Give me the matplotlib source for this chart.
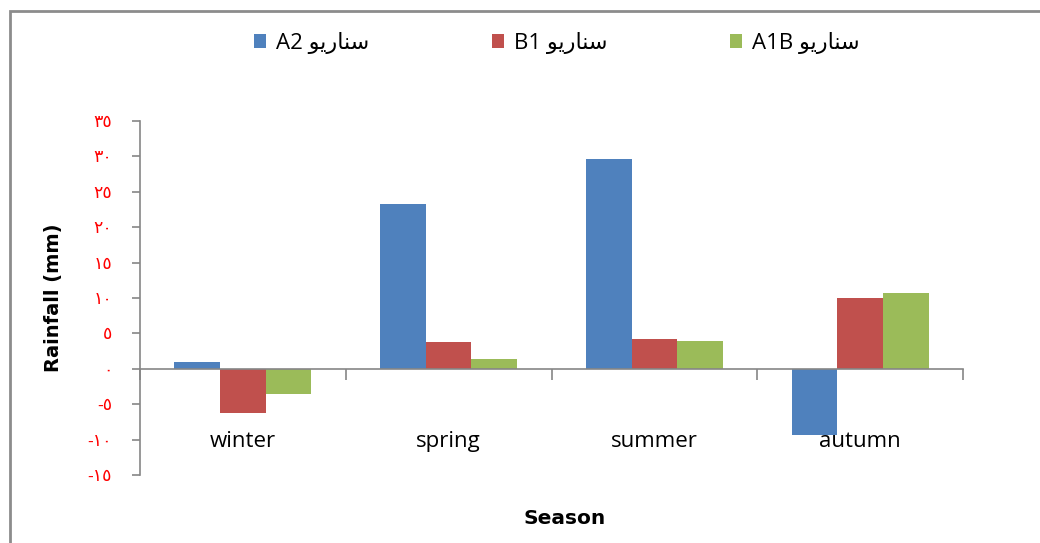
import matplotlib.pyplot as plt
import numpy as np
from matplotlib.patches import Rectangle

plt.rcParams['font.family'] = ['Open Sans', 'DejaVu Sans']

seasons = ['winter', 'spring', 'summer', 'autumn']
a2 = [0.9, 23.3, 29.6, -9.3]
b1 = [-6.3, 3.75, 4.2, 10.0]
a1b = [-3.6, 1.4, 3.9, 10.7]

# Arabic "سناريو" already shaped, in visual (left-to-right) order
scen = '\uFEEE\uFEF3\uFEAD\uFE8E\uFEE8\uFEB3'
labels = ['A2 ' + scen, 'B1 ' + scen, 'A1B ' + scen]
colors = ['#4F81BD', '#C0504D', '#9BBB59']

yticks = list(range(-15, 40, 5))
ar_digits = str.maketrans('0123456789', '\u0660\u0661\u0662\u0663\u0664\u0665\u0666\u0667\u0668\u0669')
ytick_labels = [str(v).translate(ar_digits) for v in yticks]

fig = plt.figure(figsize=(10.4, 5.43), dpi=100)
ax = fig.add_axes([140 / 1040, 68 / 543, 823 / 1040, 354 / 543])

x = np.arange(len(seasons)) + 0.5
w = 1 / 4.5
for i, (vals, lab, c) in enumerate(zip([a2, b1, a1b], labels, colors)):
    ax.bar(x + (i - 1) * w, vals, width=w, color=c, label=lab)

ax.set_xlim(0, 4)
ax.set_ylim(-15, 35)
ax.set_yticks(yticks)
ax.set_yticklabels(ytick_labels, color='red', fontsize=12.5)
ax.tick_params(axis='y', length=6, width=1.2, color='#868686', pad=14)

ax.spines['top'].set_visible(False)
ax.spines['right'].set_visible(False)
ax.spines['bottom'].set_position(('data', 0))
for s in ['left', 'bottom']:
    ax.spines[s].set_color('#868686')
    ax.spines[s].set_linewidth(1.2)

ax.set_xticks(np.arange(5))
ax.set_xticklabels([])
ax.tick_params(axis='x', length=8, width=1.2, color='#868686')
ax.set_xticks(x, minor=True)
ax.set_xticklabels(seasons, minor=True, fontsize=16)
ax.tick_params(axis='x', which='minor', length=0, pad=45)

ax.set_ylabel('Rainfall (mm)', fontsize=14, fontweight='bold', family='DejaVu Sans', labelpad=18)
fig.text(565 / 1040, 1 - 519 / 543, 'Season', fontsize=14.5, fontweight='bold',
         family='DejaVu Sans', ha='center', va='center')

fig.legend(loc='center', bbox_to_anchor=(557 / 1040, 1 - 43 / 543), ncol=3, frameon=False,
           fontsize=16, handlelength=0.55, handleheight=0.55, handletextpad=0.45, columnspacing=5.5)

fig.patches.append(Rectangle((10 / 1040, -0.1), 1.2, 1 - 11 / 543 + 0.1, transform=fig.transFigure,
                             fill=False, edgecolor='#8c8c8c', linewidth=2, zorder=-1))

fig.savefig('out.png', dpi=100)
